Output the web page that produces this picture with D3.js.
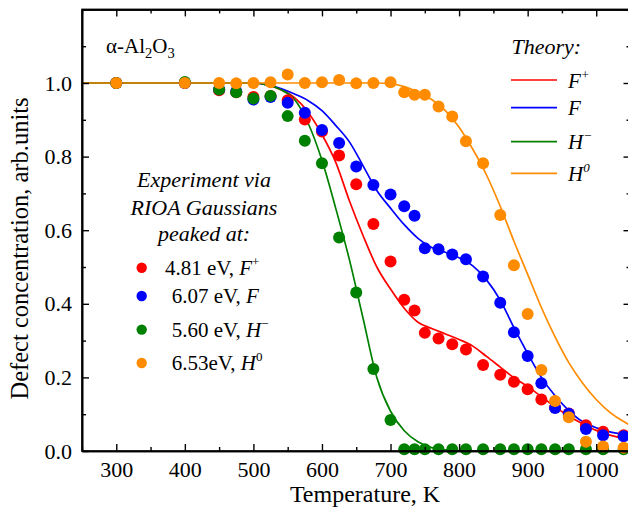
<!DOCTYPE html>
<html>
<head>
<meta charset="utf-8">
<script src="https://cdn.jsdelivr.net/npm/d3@7"></script>
<style>
  html, body { margin: 0; padding: 0; background: #fff; }
  svg { display: block; font-family: "Liberation Serif", "Times New Roman", serif; }
</style>
</head>
<body>
<svg id="chart" width="628" height="509"></svg>
<script>
// Annealing temperatures of the measured points, K
const tempsK = [300, 400, 450, 475, 500, 525, 550, 575, 600, 625, 650, 675, 700,
  720, 735, 750, 770, 790, 810, 835, 860, 880, 900, 920, 940, 960, 985, 1010, 1040];

// Experimental defect concentrations (RIOA Gaussian amplitudes, normalised)
const fPlusExp = [1.0, 1.0, 0.980, 0.975, 0.962, 0.965, 0.953, 0.901, 0.868, 0.803, 0.725, 0.617, 0.515,
  0.411, 0.382, 0.321, 0.306, 0.290, 0.276, 0.234, 0.207, 0.188, 0.168, 0.140, 0.118, 0.102, 0.070, 0.052, 0.043];
const fExp = [1.0, 1.0, 0.983, 0.977, 0.955, 0.962, 0.946, 0.919, 0.872, 0.837, 0.773, 0.723, 0.697,
  0.665, 0.639, 0.551, 0.548, 0.534, 0.521, 0.474, 0.403, 0.323, 0.258, 0.184, 0.117, 0.101, 0.060, 0.043, 0.040];
const hMinusExp = [1.0, 1.003, 0.982, 0.975, 0.958, 0.965, 0.910, 0.843, 0.782, 0.580, 0.431, 0.223, 0.084,
  0.005, 0.005, 0.005, 0.005, 0.005, 0.005, 0.005, 0.005, 0.005, 0.005, 0.005, 0.005, 0.005, 0.005, 0.005, 0.005];
const hZeroExp = [1.0, 1.0, 1.0, 0.999, 1.0, 1.002, 1.023, 1.0, 1.002, 1.008, 0.999, 1.0, 1.002,
  0.975, 0.968, 0.968, 0.936, 0.909, 0.842, 0.782, 0.641, 0.505, 0.372, 0.220, 0.136, 0.092, 0.025, 0.012, 0.009];

// Theoretical annealing curves
const theoryK = [250, 500, 520, 540, 560, 580, 600, 620, 640, 660, 680, 700, 720, 740, 760,
  780, 800, 820, 840, 860, 880, 900, 920, 940, 960, 980, 1000, 1020, 1040, 1050];
const fPlusTheory = [1, 1, 0.995, 0.982, 0.96, 0.92, 0.86, 0.785, 0.68, 0.585, 0.5, 0.44, 0.388, 0.35, 0.333,
  0.318, 0.303, 0.285, 0.257, 0.228, 0.199, 0.175, 0.148, 0.12, 0.095, 0.074, 0.056, 0.043, 0.034, 0.031];
const fTheory = [1, 1, 0.995, 0.985, 0.97, 0.952, 0.925, 0.885, 0.84, 0.775, 0.708, 0.66, 0.615, 0.578, 0.553,
  0.54, 0.525, 0.503, 0.465, 0.41, 0.335, 0.265, 0.2, 0.15, 0.11, 0.08, 0.063, 0.052, 0.045, 0.042];
const hMinusTheory = [1, 1, 0.995, 0.982, 0.955, 0.89, 0.79, 0.66, 0.52, 0.36, 0.2, 0.108, 0.055, 0.025, 0.009,
  0.003, 0, 0, 0, 0, 0, 0, 0, 0, 0, 0, 0, 0, 0, 0];
const hZeroTheory = [1, 1, 1, 1, 1, 1, 1, 1, 1, 1, 1, 0.998, 0.99, 0.975, 0.955,
  0.925, 0.88, 0.82, 0.75, 0.665, 0.57, 0.48, 0.39, 0.31, 0.24, 0.185, 0.14, 0.105, 0.08, 0.07];

// Axis ticks
const xTicks = [300, 400, 500, 600, 700, 800, 900, 1000];
const xMinorTicks = [250, 350, 450, 550, 650, 750, 850, 950, 1050];
const yTicks = [0, 0.2, 0.4, 0.6, 0.8, 1.0, 1.2];
const yTickLabels = ["0.0", "0.2", "0.4", "0.6", "0.8", "1.0", ""];
const yMinorTicks = [0.1, 0.3, 0.5, 0.7, 0.9, 1.1];

// Legend texts
const expEnergies = ["4.81 eV, ", "6.07 eV, ", "5.60 eV, ", "6.53eV, "];
const defectSymbols = ["F", "F", "H", "H"];
const defectCharges = ["+", "", "\u2212", "0"];
const seriesColors = ["#ff0000", "#0000ff", "#008000", "#ff8c00"];

const series = [
  { exp: fPlusExp, theory: fPlusTheory },
  { exp: fExp, theory: fTheory },
  { exp: hMinusExp, theory: hMinusTheory },
  { exp: hZeroExp, theory: hZeroTheory }
].map((s, i) => Object.assign(s, {
  color: seriesColors[i], energy: expEnergies[i], sym: defectSymbols[i], charge: defectCharges[i]
}));

const svg = d3.select("#chart");
const plotL = 82, plotR = 630.5, plotT = 9.4, plotB = 451;
const x = d3.scaleLinear().domain([250, 1050]).range([plotL, plotR]);
const y = d3.scaleLinear().domain([0, 1.2]).range([plotB, plotT]);

const FS = 21;

// clip region for curves
svg.append("defs").append("clipPath").attr("id", "plotClip")
  .append("rect").attr("x", plotL).attr("y", plotT).attr("width", plotR - plotL).attr("height", plotB - plotT);

// theory curves
const line = d3.line().x(d => x(d[0])).y(d => y(d[1])).curve(d3.curveMonotoneX);
const curves = svg.append("g").attr("clip-path", "url(#plotClip)");
series.forEach(s => {
  curves.append("path")
    .datum(theoryK.map((t, i) => [t, s.theory[i]]))
    .attr("d", line)
    .attr("fill", "none")
    .attr("stroke", s.color)
    .attr("stroke-width", 1.7);
});

// experimental points
const dots = svg.append("g");
series.forEach(s => {
  dots.append("g").selectAll("circle")
    .data(tempsK.map((t, i) => [t, s.exp[i]]))
    .join("circle")
    .attr("cx", d => x(d[0]))
    .attr("cy", d => y(d[1]))
    .attr("r", 6)
    .attr("fill", s.color);
});

// axes with inward ticks
function styleAxis(g) {
  g.selectAll("path.domain").attr("stroke", "#000").attr("stroke-width", 1.6);
  g.selectAll(".tick line").attr("stroke", "#000").attr("stroke-width", 1.4);
  g.selectAll(".tick text").attr("fill", "#000").attr("font-size", 22)
    .attr("font-family", "Liberation Serif, Times New Roman, serif");
}

svg.append("g").attr("transform", `translate(0,${plotB})`)
  .call(d3.axisBottom(x).tickValues(xTicks).tickFormat(d3.format("d")).tickSizeInner(-7).tickSizeOuter(0).tickPadding(10.5))
  .call(styleAxis);
svg.append("g").attr("transform", `translate(0,${plotB})`)
  .call(d3.axisBottom(x).tickValues(xMinorTicks).tickFormat("").tickSizeInner(-4).tickSizeOuter(0))
  .call(styleAxis);
svg.append("g").attr("transform", `translate(0,${plotT})`)
  .call(d3.axisTop(x).tickValues(xTicks).tickFormat("").tickSizeInner(-7).tickSizeOuter(0))
  .call(styleAxis);
svg.append("g").attr("transform", `translate(0,${plotT})`)
  .call(d3.axisTop(x).tickValues(xMinorTicks).tickFormat("").tickSizeInner(-4).tickSizeOuter(0))
  .call(styleAxis);

svg.append("g").attr("transform", `translate(${plotL},0)`)
  .call(d3.axisLeft(y).tickValues(yTicks).tickFormat((d, i) => yTickLabels[i]).tickSizeInner(-7).tickSizeOuter(0).tickPadding(10))
  .call(styleAxis);
svg.append("g").attr("transform", `translate(${plotL},0)`)
  .call(d3.axisLeft(y).tickValues(yMinorTicks).tickFormat("").tickSizeInner(-4).tickSizeOuter(0))
  .call(styleAxis);
svg.append("g").attr("transform", `translate(${plotR},0)`)
  .call(d3.axisRight(y).tickValues(yTicks).tickFormat("").tickSizeInner(-7).tickSizeOuter(0))
  .call(styleAxis);
svg.append("g").attr("transform", `translate(${plotR},0)`)
  .call(d3.axisRight(y).tickValues(yMinorTicks).tickFormat("").tickSizeInner(-4).tickSizeOuter(0))
  .call(styleAxis);

// axis titles
svg.append("text")
  .attr("x", 365).attr("y", 501.5)
  .attr("text-anchor", "middle").attr("font-size", 24)
  .text("Temperature, K");
svg.append("text")
  .attr("transform", "translate(28,248.5) rotate(-90)")
  .attr("text-anchor", "middle").attr("font-size", 24.5)
  .text("Defect concentration, arb.units");

// material label
const mat = svg.append("text").attr("x", 106).attr("y", 53).attr("font-size", 21);
mat.append("tspan").text("\u03b1-Al");
mat.append("tspan").attr("font-size", 14.5).attr("dy", 5).text("2");
mat.append("tspan").attr("dy", -5).text("O");
mat.append("tspan").attr("font-size", 14.5).attr("dy", 5).text("3");

// theory legend
svg.append("text").attr("x", 511.5).attr("y", 54).attr("font-size", 22)
  .attr("font-style", "italic").text("Theory:");
const theoryRows = [80, 107.7, 141.7, 173.3];
series.forEach((s, i) => {
  const yy = theoryRows[i];
  svg.append("line").attr("x1", 511).attr("x2", 557).attr("y1", yy).attr("y2", yy)
    .attr("stroke", s.color).attr("stroke-width", 1.7);
  const t = svg.append("text").attr("x", 568).attr("y", yy + 7.5)
    .attr("font-size", FS).attr("font-style", "italic");
  t.append("tspan").text(s.sym);
  if (s.charge) t.append("tspan").attr("font-size", 13).attr("dy", -9).text(s.charge);
});

// experiment legend
const expHead = ["Experiment via", "RIOA Gaussians", "peaked at:"];
const headBase = [187, 214.5, 241];
expHead.forEach((txt, i) => {
  svg.append("text").attr("x", 204).attr("y", headBase[i])
    .attr("text-anchor", "middle").attr("font-size", 22).attr("font-style", "italic").text(txt);
});
const expDotY = [267.8, 296, 329.6, 363];
const expTextX = [165, 171.7, 171.7, 171.7];
series.forEach((s, i) => {
  svg.append("circle").attr("cx", 141.7).attr("cy", expDotY[i]).attr("r", 5.2).attr("fill", s.color);
  const t = svg.append("text").attr("x", expTextX[i]).attr("y", expDotY[i] + 7.3).attr("font-size", FS);
  t.append("tspan").text(s.energy);
  t.append("tspan").attr("font-style", "italic").text(s.sym);
  if (s.charge) t.append("tspan").attr("font-size", 13).attr("dy", -9).text(s.charge);
});

// plot frame on top
svg.append("rect").attr("x", plotL).attr("y", plotT).attr("width", plotR - plotL).attr("height", plotB - plotT)
  .attr("fill", "none").attr("stroke", "#000").attr("stroke-width", 1.6);
</script>
</body>
</html>
